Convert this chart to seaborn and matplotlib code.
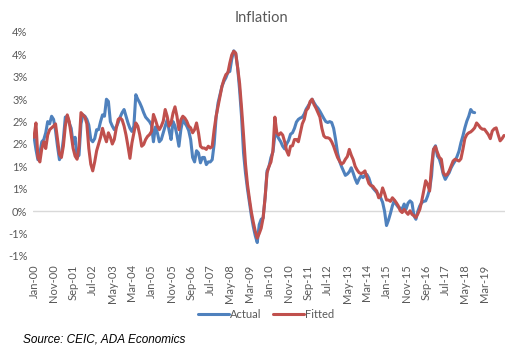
import numpy as np
import pandas as pd
import matplotlib
matplotlib.use("Agg")
import matplotlib.pyplot as plt
import seaborn as sns

# monthly index Jan-00 .. Jan-20
months = pd.date_range("2000-01-01", "2020-01-01", freq="MS")

# Actual inflation (%), Jan-00 .. Oct-18
actual = [
    1.67, 1.38, 1.15, 1.30, 1.55, 1.60, 1.75, 2.00, 1.95, 2.12, 2.05, 1.80,
    1.45, 1.15, 1.25, 1.60, 2.10, 2.12, 1.97, 1.85, 1.50, 1.65, 1.20, 1.25,
    1.95, 2.15, 2.12, 2.05, 1.92, 1.60, 1.55, 1.62, 1.82, 1.82, 2.00, 2.15,
    2.12, 2.50, 2.45, 2.00, 1.90, 1.82, 1.88, 1.98, 2.10, 2.20, 2.27, 2.12,
    1.97, 1.85, 1.78, 1.90, 2.60, 2.50, 2.42, 2.32, 2.20, 2.10, 2.05, 2.00,
    1.92, 1.55, 1.88, 1.75, 1.55, 1.60, 1.75, 1.90, 2.04, 1.80, 1.60, 2.00,
    1.90, 1.70, 1.45, 1.82, 2.04, 1.97, 1.90, 1.80, 1.60, 1.20, 1.10, 1.35,
    1.30, 1.08, 1.20, 1.20, 1.04, 1.10, 1.10, 1.15, 1.50, 2.10, 2.42, 2.60,
    2.79, 2.90, 2.98, 3.10, 3.12, 3.40, 3.58, 3.52, 3.20, 2.70, 2.10, 1.30,
    0.85, 0.50, 0.20, -0.10, -0.35, -0.55, -0.70, -0.30, -0.18, -0.15, 0.30, 0.90,
    1.00, 1.20, 1.32, 1.70, 1.70, 1.62, 1.55, 1.45, 1.39, 1.50, 1.58, 1.72,
    1.75, 1.85, 1.99, 2.05, 2.08, 2.10, 2.17, 2.28, 2.35, 2.42, 2.50, 2.42,
    2.35, 2.30, 2.23, 2.15, 2.07, 2.00, 1.98, 2.00, 1.98, 1.85, 1.60, 1.30,
    1.12, 1.00, 0.90, 0.80, 0.83, 0.88, 0.97, 0.85, 0.72, 0.62, 0.72, 0.79,
    0.75, 0.80, 0.82, 0.74, 0.60, 0.52, 0.47, 0.42, 0.36, 0.30, 0.20, 0.00,
    -0.32, -0.20, -0.05, 0.12, 0.24, 0.15, 0.09, 0.07, 0.05, 0.16, 0.05, 0.18,
    0.23, 0.19, -0.10, -0.18, 0.00, 0.12, 0.19, 0.22, 0.23, 0.34, 0.49, 0.79,
    1.38, 1.46, 1.23, 1.16, 1.01, 0.82, 0.71, 0.79, 0.86, 0.97, 1.05, 1.12,
    1.22, 1.34, 1.53, 1.68, 1.86, 2.01, 2.12, 2.27, 2.21, 2.20,
]

# Fitted inflation (%), Jan-00 .. Jan-20
fitted = [
    1.65, 1.97, 1.20, 1.10, 1.40, 1.55, 1.40, 1.70, 1.82, 1.86, 1.90, 1.95,
    1.60, 1.27, 1.20, 1.45, 1.90, 2.15, 2.00, 1.70, 1.40, 1.23, 1.16, 1.45,
    2.20, 2.15, 2.10, 1.95, 1.40, 1.05, 0.90, 1.10, 1.35, 1.50, 1.65, 1.85,
    1.68, 1.55, 1.75, 1.65, 1.50, 1.60, 1.85, 2.05, 2.08, 2.04, 1.90, 1.70,
    1.45, 1.18, 1.52, 1.75, 1.97, 1.90, 1.71, 1.45, 1.49, 1.60, 1.67, 1.71,
    1.78, 2.16, 2.04, 1.90, 1.82, 1.90, 2.01, 2.27, 2.12, 1.90, 1.97, 2.19,
    2.33, 2.12, 1.82, 2.04, 2.12, 2.08, 2.01, 1.90, 1.86, 1.75, 1.82, 1.97,
    1.75, 1.45, 1.41, 1.41, 1.38, 1.45, 1.41, 1.45, 1.82, 2.12, 2.34, 2.57,
    2.79, 2.94, 3.05, 3.09, 3.31, 3.49, 3.57, 3.53, 3.20, 2.85, 2.30, 1.70,
    1.05, 0.60, 0.28, -0.02, -0.25, -0.45, -0.60, -0.50, -0.38, -0.15, 0.30, 0.85,
    1.00, 1.10, 1.35, 2.10, 1.75, 1.70, 1.75, 1.70, 1.55, 1.35, 1.25, 1.45,
    1.46, 1.60, 1.60, 1.55, 1.75, 1.95, 2.05, 2.25, 2.30, 2.45, 2.50, 2.38,
    2.30, 2.20, 2.10, 1.85, 1.68, 1.64, 1.64, 1.62, 1.55, 1.45, 1.32, 1.20,
    1.12, 1.05, 1.08, 1.16, 1.22, 1.38, 1.25, 1.15, 1.00, 0.92, 0.86, 0.84,
    0.86, 0.90, 0.75, 0.62, 0.57, 0.56, 0.50, 0.45, 0.30, 0.34, 0.52, 0.40,
    0.25, 0.25, 0.22, 0.30, 0.25, 0.19, 0.12, 0.01, -0.03, 0.04, -0.02, -0.07,
    0.01, -0.07, -0.10, -0.14, -0.06, 0.04, 0.23, 0.45, 0.68, 0.60, 0.45, 1.01,
    1.38, 1.44, 1.31, 1.20, 1.16, 0.86, 0.80, 0.82, 0.90, 1.01, 1.12, 1.16,
    1.14, 1.12, 1.17, 1.38, 1.62, 1.71, 1.75, 1.77, 1.81, 1.86, 1.97, 1.92,
    1.86, 1.83, 1.83, 1.77, 1.71, 1.62, 1.79, 1.84, 1.86, 1.71, 1.57, 1.62,
    1.69,
]

series_names = ["Actual", "Fitted"]
colors = ["#4F81BD", "#C0504D"]

# build long table for seaborn
df = pd.concat([
    pd.DataFrame({"idx": np.arange(len(actual)), "value": actual, "series": "Actual"}),
    pd.DataFrame({"idx": np.arange(len(fitted)), "value": fitted, "series": "Fitted"}),
], ignore_index=True)

sns.set_theme(style="white")
plt.rcParams["font.family"] = ["Lato", "DejaVu Sans"]

fig = plt.figure(figsize=(5.23, 3.57), dpi=100)
ax = fig.add_axes([33 / 523, 1 - 256 / 357, 472 / 523, 224 / 357])

ax.axhline(0, color="#d9d9d9", lw=1, zorder=0)
sns.lineplot(data=df, x="idx", y="value", hue="series", hue_order=series_names,
             palette=colors, linewidth=2.2, ax=ax, legend=False, sort=False)

ax.set_xlim(-0.5, len(fitted) - 0.5)
ax.set_ylim(-1.0, 4.0)

# y ticks every 0.5, Excel-style rounding to whole percent
yt = np.arange(-1.0, 4.01, 0.5)
ax.set_yticks(yt)
ax.set_yticklabels([f"{int(np.sign(v) * np.floor(abs(v) + 0.5))}%" for v in yt])

xt = np.arange(0, 231, 10)
ax.set_xticks(xt)
ax.set_xticklabels([months[i].strftime("%b-%y") for i in xt], rotation=90)

ax.tick_params(axis="both", length=0, labelsize=8, colors="#595959")
ax.tick_params(axis="x", pad=6)
ax.tick_params(axis="y", pad=4)
ax.set_xlabel("")
ax.set_ylabel("")
for s in ax.spines.values():
    s.set_visible(False)

fig.text(0.5, 1 - 18 / 357, "Inflation", ha="center", va="center",
         fontsize=10.5, color="#595959")

handles = [plt.Line2D([], [], color=c, lw=2.2) for c in colors]
fig.legend(handles, series_names, loc="center", bbox_to_anchor=(266 / 523, 1 - 314 / 357),
           ncol=2, frameon=False, fontsize=8, handlelength=2.8, handletextpad=0.1,
           columnspacing=1.0, labelcolor="#595959")

fig.text(23 / 523, 1 - 339 / 357, "Source: CEIC, ADA Economics", ha="left", va="center",
         fontsize=8.5, style="italic", color="black", family=["Liberation Sans", "DejaVu Sans"])

fig.savefig("out.png", dpi=100)
